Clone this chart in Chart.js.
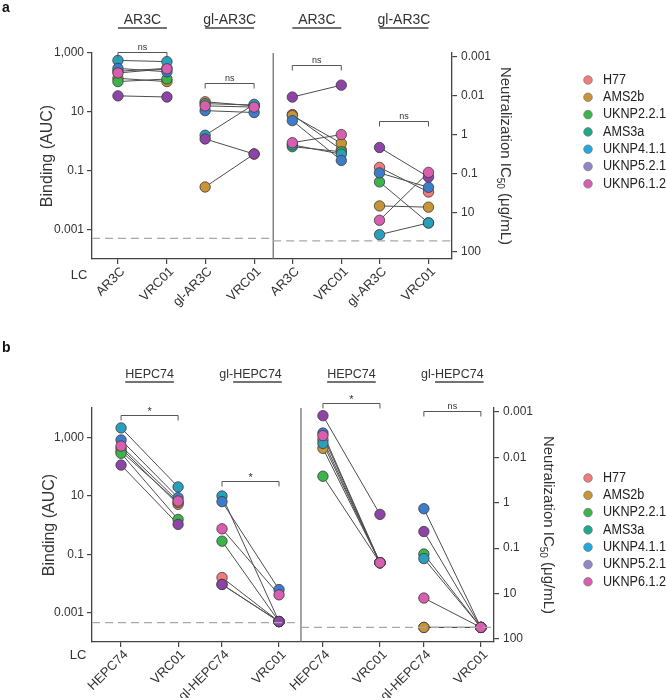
<!DOCTYPE html>
<html><head><meta charset="utf-8">
<script src="https://cdn.jsdelivr.net/npm/chart.js@4"></script>
<style>
html,body{margin:0;padding:0;background:#fff;width:666px;height:698px;overflow:hidden}
#ca{position:absolute;left:0;top:0}
#cb{position:absolute;left:0;top:340px}
</style></head><body>
<canvas id="ca" width="666" height="340"></canvas>
<canvas id="cb" width="666" height="358"></canvas>
<script>
// ---------------- DATA ----------------
const donors = ['H77','AMS2b','UKNP2.2.1','AMS3a','UKNP4.1.1','UKNP5.2.1','UKNP6.1.2'];
const donorColors = ['#F27B7B','#C89438','#3CB44B','#2A9FBC','#3C7CCB','#8E44A6','#D85FB0'];
const legendColors = ['#F27B7B','#C89438','#3CB44B','#1FA88C','#22A8DF','#9286C8','#D85FB0'];

const bindTickValues = [1000, 10, 0.1, 0.001];
const bindTickLabels = ['1,000', '10', '0.1', '0.001'];
const neutTickValues = [0.001, 0.01, 0.1, 1, 10, 100];
const neutTickLabels = ['0.001', '0.01', '1', '0.1', '10', '100'];

// Panel a
const aCategories = ['AR3C','VRC01','gl-AR3C','VRC01','AR3C','VRC01','gl-AR3C','VRC01'];
const aHeaders = ['AR3C','gl-AR3C','AR3C','gl-AR3C'];
const aSignificance = ['ns','ns','ns','ns'];
const aBracketLevels = [1100, 95, 0.0016, 0.044];
const aBindAR3C        = [240, 138, 107, 560, 300, 35, 210];
const aBindAR3C_VRC01  = [300, 107, 131, 510, 230, 32, 290];
const aBindGlAR3C      = [22, 0.028, 19, 1.6, 11, 1.2, 16];
const aBindGlAR3C_VRC01= [16, 0.37, 17, 18, 9.5, 0.37, 14.5];
const aNeutAR3C        = [0.030, 0.032, 0.20, 0.18, 0.043, 0.0107, 0.158];
const aNeutAR3C_VRC01  = [0.24, 0.163, 0.27, 0.31, 0.45, 0.0053, 0.098];
const aNeutGlAR3C      = [0.68, 6.6, 1.6, 36, 0.94, 0.21, 15.4];
const aNeutGlAR3C_VRC01= [2.9, 7.1, 18, 18, 2.2, 1.2, 0.91];
const aLodBinding = 0.0005;
const aLodNeut = 52;

// Panel b
const bCategories = ['HEPC74','VRC01','gl-HEPC74','VRC01','HEPC74','VRC01','gl-HEPC74','VRC01'];
const bHeaders = ['HEPC74','gl-HEPC74','HEPC74','gl-HEPC74'];
const bSignificance = ['*','*','*','ns'];
const bBracketLevels = [5600, 32, 0.00063, 0.00095];
const bBindHEPC74        = [420, 330, 283, 2090, 810, 112, 500];
const bBindHEPC74_VRC01  = [5.1, 5.9, 1.55, 20, 8.6, 1.05, 6.6];
const bBindGlHEPC74      = [0.016, 0.0093, 0.28, 9.8, 6.3, 0.0093, 0.74];
const bBindGlHEPC74_VRC01= [0.0005, 0.0005, 0.0005, 0.0005, 0.0062, 0.0005, 0.0041];
const bNeutHEPC74        = [0.0041, 0.0063, 0.026, 0.0049, 0.0029, 0.0012, 0.0033];
const bNeutHEPC74_VRC01  = [2.1, 2.1, 2.1, 2.1, 2.1, 0.18, 2.1];
const bNeutGlHEPC74      = [56, 56, 1.35, 1.7, 0.135, 0.43, 12.6];
const bNeutGlHEPC74_VRC01= [56, 56, 56, 56, 56, 56, 56];
const bLodBinding = 0.00046;
const bLodNeut = 56;

// ---------------- LAYOUT ----------------
const FONT = "'Liberation Sans', Arial, Helvetica, sans-serif";
Chart.defaults.font.family = FONT;
Chart.defaults.color = '#333';

const panelA = {
  letter:'a', canvas:'ca', cats:aCategories, headers:aHeaders, ulParts:aHeaders, ulMode:'pair', headerFont:14,
  sig:aSignificance, sigLevels:aBracketLevels,
  bind:[aBindAR3C, aBindAR3C_VRC01, aBindGlAR3C, aBindGlAR3C_VRC01],
  neut:[aNeutAR3C, aNeutAR3C_VRC01, aNeutGlAR3C, aNeutGlAR3C_VRC01],
  lodBind:aLodBinding, lodNeut:aLodNeut,
  gap:0.78, xMin:-0.53, xMax:6.82,
  bindMin:1e-4, bindMax:1e3, neutMin:Math.pow(10,-3.1), neutMax:Math.pow(10,2.18),
  padTop:53, padRight:154, y2W:60, xH:81,
  headerY:20, underY:28, lcX:79, lcY:275, bindTitleX:48, neutTitleX:505, legX:588, legY0:80
};
const panelB = {
  letter:'b', canvas:'cb', cats:bCategories, headers:bHeaders, ulParts:['HEPC74','HEPC74','HEPC74','HEPC74'], ulMode:'text', headerFont:12.5,
  sig:bSignificance, sigLevels:bBracketLevels,
  bind:[bBindHEPC74, bBindHEPC74_VRC01, bBindGlHEPC74, bBindGlHEPC74_VRC01],
  neut:[bNeutHEPC74, bNeutHEPC74_VRC01, bNeutGlHEPC74, bNeutGlHEPC74_VRC01],
  lodBind:bLodBinding, lodNeut:bLodNeut,
  gap:0.77, xMin:-0.51, xMax:6.54,
  bindMin:1e-4, bindMax:1e4, neutMin:Math.pow(10,-3.09), neutMax:Math.pow(10,2.07),
  padTop:68, padRight:112, y2W:60, xH:56,
  headerY:35, underY:42, lcX:78, lcY:315, bindTitleX:50, neutTitleX:548, legX:588, legY0:138
};

function catPositions(gap){
  const p=[];
  for(let k=0;k<8;k++){ const j=Math.floor(k/2); p.push(j*(1+gap)+(k%2)); }
  return p;
}

function makeOverlay(P, pos){
  return {
    id:'overlay',
    afterDraw(chart){
      const {ctx, chartArea:ca, scales} = chart;
      const x=scales.x, y=scales.y, y2=scales.y2;
      ctx.save();
      // divider
      const xd = x.getPixelForValue((pos[3]+pos[4])/2);
      ctx.strokeStyle='#666'; ctx.lineWidth=1.2;
      ctx.beginPath(); ctx.moveTo(xd, ca.top); ctx.lineTo(xd, ca.bottom); ctx.stroke();
      // LOD dashed
      ctx.setLineDash([8,5]); ctx.strokeStyle='#a8a8a8'; ctx.lineWidth=1.2;
      let yl = y.getPixelForValue(P.lodBind);
      ctx.beginPath(); ctx.moveTo(ca.left, yl); ctx.lineTo(xd, yl); ctx.stroke();
      yl = y2.getPixelForValue(P.lodNeut);
      ctx.beginPath(); ctx.moveTo(xd, yl); ctx.lineTo(ca.right, yl); ctx.stroke();
      ctx.setLineDash([]);
      // brackets
      for(let j=0;j<4;j++){
        const x0=x.getPixelForValue(pos[2*j]), x1=x.getPixelForValue(pos[2*j+1]);
        const sc = j<2 ? y : y2;
        const yb = Math.round(sc.getPixelForValue(P.sigLevels[j]))+0.5;
        ctx.strokeStyle='#555'; ctx.lineWidth=1;
        ctx.beginPath(); ctx.moveTo(x0, yb+5); ctx.lineTo(x0, yb); ctx.lineTo(x1, yb); ctx.lineTo(x1, yb+5); ctx.stroke();
        ctx.fillStyle='#333'; ctx.textAlign='center'; ctx.textBaseline='alphabetic';
        const star = P.sig[j]==='*';
        ctx.font = (star?'11px ':'9px ')+FONT;
        ctx.fillText(P.sig[j], (x0+x1)/2, star ? yb-1 : yb-3);
      }
      // headers
      ctx.font=P.headerFont+'px '+FONT; ctx.fillStyle='#333'; ctx.textBaseline='middle'; ctx.textAlign='left';
      for(let j=0;j<4;j++){
        const x0=x.getPixelForValue(pos[2*j]), x1=x.getPixelForValue(pos[2*j+1]);
        const t=P.headers[j], w=ctx.measureText(t).width, cx=(x0+x1)/2, tl=cx-w/2;
        ctx.fillText(t, tl, P.headerY);
        ctx.strokeStyle='#444'; ctx.lineWidth=1.3;
        ctx.beginPath();
        if(P.ulMode==='pair'){ ctx.moveTo(x0, P.underY); ctx.lineTo(x1, P.underY); }
        else {
          const idx=t.indexOf(P.ulParts[j]);
          const s=tl+ctx.measureText(t.slice(0,idx)).width;
          ctx.moveTo(s, P.underY); ctx.lineTo(s+ctx.measureText(P.ulParts[j]).width, P.underY);
        }
        ctx.stroke();
      }
      // LC
      ctx.font='13px '+FONT; ctx.textAlign='center'; ctx.fillText('LC', P.lcX, P.lcY);
      // Binding title
      const midY=(ca.top+ca.bottom)/2;
      ctx.save(); ctx.translate(P.bindTitleX, midY); ctx.rotate(-Math.PI/2);
      ctx.font='16px '+FONT; ctx.textAlign='center'; ctx.textBaseline='middle';
      ctx.fillText('Binding (AUC)', 0, 0); ctx.restore();
      // Neutralization title
      ctx.save(); ctx.translate(P.neutTitleX, midY); ctx.rotate(Math.PI/2);
      ctx.textBaseline='middle'; ctx.textAlign='left';
      const p1='Neutralization IC', p2='50', p3=' (\u03bcg/mL)';
      ctx.font='15px '+FONT; const w1=ctx.measureText(p1).width, w3=ctx.measureText(p3).width;
      ctx.font='10px '+FONT; const w2=ctx.measureText(p2).width;
      let sx=-(w1+w2+w3)/2;
      ctx.font='15px '+FONT; ctx.fillText(p1, sx, 0); sx+=w1;
      ctx.font='10px '+FONT; ctx.fillText(p2, sx, 5); sx+=w2;
      ctx.font='15px '+FONT; ctx.fillText(p3, sx, 0);
      ctx.restore();
      // legend
      donors.forEach((d,i)=>{
        const ly=P.legY0+i*17.3;
        ctx.beginPath(); ctx.arc(P.legX, ly, 4.3, 0, Math.PI*2);
        ctx.fillStyle=legendColors[i]; ctx.fill();
        ctx.strokeStyle='#777'; ctx.lineWidth=0.7; ctx.stroke();
        ctx.save(); ctx.translate(P.legX+15, ly); ctx.scale(0.9, 1);
        ctx.font='14px '+FONT; ctx.textAlign='left'; ctx.textBaseline='middle';
        ctx.fillStyle='#222'; ctx.fillText(d, 0, 0);
        ctx.restore();
      });
      // panel letter
      ctx.font='bold 14px '+FONT; ctx.fillStyle='#111'; ctx.textAlign='left'; ctx.textBaseline='middle';
      ctx.fillText(P.letter, 2, 8);
      ctx.restore();
    }
  };
}

function buildChart(P){
  const pos = catPositions(P.gap);
  const datasets=[];
  donors.forEach((d,i)=>{
    const bindPts=[{x:pos[0],y:P.bind[0][i]},{x:pos[1],y:P.bind[1][i]},{x:(pos[1]+pos[2])/2,y:null},{x:pos[2],y:P.bind[2][i]},{x:pos[3],y:P.bind[3][i]}];
    const neutPts=[{x:pos[4],y:P.neut[0][i]},{x:pos[5],y:P.neut[1][i]},{x:(pos[5]+pos[6])/2,y:null},{x:pos[6],y:P.neut[2][i]},{x:pos[7],y:P.neut[3][i]}];
    [[bindPts,'y'],[neutPts,'y2']].forEach(([pts,ax])=>{
      datasets.push({label:d+' line', data:pts, yAxisID:ax, showLine:true, spanGaps:false,
        borderColor:'#4d4d4d', borderWidth:1, pointRadius:0, order:100, clip:false});
      datasets.push({label:d, data:pts, yAxisID:ax, showLine:false, pointRadius:5.2,
        pointBackgroundColor:donorColors[i], pointBorderColor:'#3a3a3a', pointBorderWidth:0.8,
        order:10-i, clip:false});
    });
  });
  const gridOpts={display:true, drawOnChartArea:false, drawTicks:true, tickLength:5, color:'#444', lineWidth:1.2};
  const borderOpts={display:true, color:'#444', width:1.3};
  return new Chart(document.getElementById(P.canvas), {
    type:'line',
    data:{datasets},
    options:{
      responsive:false, animation:false, devicePixelRatio:1,
      layout:{padding:{top:P.padTop, left:0, right:P.padRight, bottom:0}},
      plugins:{legend:{display:false}, tooltip:{enabled:false}},
      scales:{
        x:{type:'linear', min:P.xMin, max:P.xMax, grid:gridOpts, border:borderOpts,
          afterBuildTicks:s=>{ s.ticks=pos.map(v=>({value:v})); },
          afterFit:s=>{ s.height=P.xH; },
          ticks:{autoSkip:false, minRotation:45, maxRotation:45, padding:0, labelOffset:5, color:'#333', font:{size:13},
            callback:(v,idx)=>P.cats[idx]}},
        y:{type:'logarithmic', position:'left', min:P.bindMin, max:P.bindMax, grid:gridOpts, border:borderOpts,
          afterBuildTicks:s=>{ s.ticks=bindTickValues.map(v=>({value:v})); },
          afterFit:s=>{ s.width=92; },
          ticks:{autoSkip:false, padding:3, color:'#333', font:{size:12},
            callback:(v)=>{ const k=bindTickValues.findIndex(t=>Math.abs(Math.log10(t)-Math.log10(v))<1e-6); return k>=0?bindTickLabels[k]:''; }}},
        y2:{type:'logarithmic', position:'right', reverse:true, min:P.neutMin, max:P.neutMax, grid:gridOpts, border:borderOpts,
          afterBuildTicks:s=>{ s.ticks=neutTickValues.map(v=>({value:v})); },
          afterFit:s=>{ s.width=P.y2W; },
          ticks:{autoSkip:false, padding:4, color:'#333', font:{size:12},
            callback:(v)=>{ const k=neutTickValues.findIndex(t=>Math.abs(Math.log10(t)-Math.log10(v))<1e-6); return k>=0?neutTickLabels[k]:''; }}}
      }
    },
    plugins:[makeOverlay(P, pos)]
  });
}
buildChart(panelA);
buildChart(panelB);
</script></body></html>
